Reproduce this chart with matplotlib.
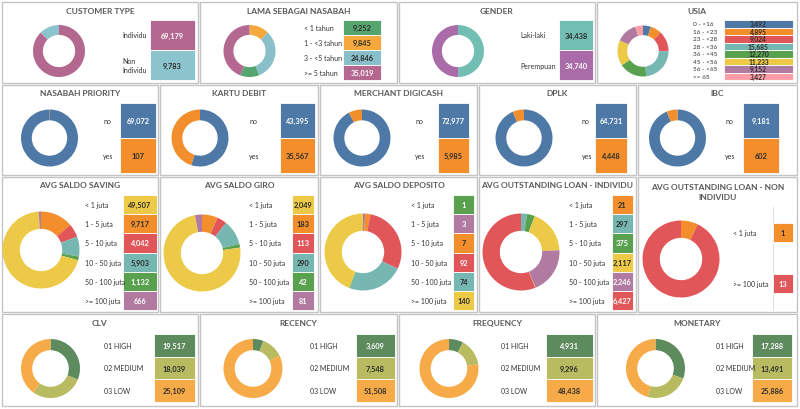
import matplotlib
matplotlib.use('Agg')
import matplotlib.pyplot as plt
from matplotlib.patches import Rectangle

# ---------------- data ----------------
customer_labels = ['Individu', 'Non\nIndividu']
customer_values = [69179, 9783]

lama_labels = ['< 1 tahun', '1 - <3 tahun', '3 - <5 tahun', '>= 5 tahun']
lama_values = [9252, 9845, 24846, 35019]

gender_labels = ['Laki-laki', 'Perempuan']
gender_values = [34438, 34740]

usia_labels = ['0 - <16', '16 - <23', '23 - <28', '28 - <36', '36 - <45', '45 - <56', '56 - <65', '>= 65']
usia_values = [3492, 4895, 9024, 15685, 12270, 11233, 9152, 3427]

yn_labels = ['no', 'yes']
priority_values = [69072, 107]
debit_values = [43395, 35567]
merchant_values = [72977, 5985]
dplk_values = [64731, 4448]
ibc_values = [9181, 602]

juta_labels = ['< 1 juta', '1 - 5 juta', '5 - 10 juta', '10 - 50 juta', '50 - 100 juta', '>= 100 juta']
saving_values = [49507, 9717, 4042, 5903, 1132, 666]
giro_values = [2049, 183, 113, 290, 42, 81]
deposito_values = [1, 3, 7, 92, 74, 140]
loan_ind_values = [21, 297, 375, 2117, 2246, 6427]
loan_non_labels = ['< 1 juta', '>= 100 juta']
loan_non_values = [1, 13]

rfm_labels = ['01 HIGH', '02 MEDIUM', '03 LOW']
clv_values = [19517, 18039, 25109]
recency_values = [3609, 7548, 51508]
frequency_values = [4931, 9296, 48438]
monetary_values = [17288, 13491, 25886]

# donut slice orders (index into the table rows)
lama_order = [1, 2, 0, 3]
juta_order = [1, 2, 3, 4, 0, 5]

# ---------------- styles ----------------
BLUE = '#4E79A7'; ORANGE = '#F28E2B'; RED = '#E15759'; TEAL = '#76B7B2'
GREEN = '#59A14F'; YELLOW = '#EDC948'; PURPLE = '#B07AA1'; PINK = '#FF9DA7'
MAUVE = '#B4678F'; CYAN = '#8BC4CC'
L_GREEN = '#55A66E'; L_ORANGE = '#F5A93C'; L_TEAL = '#88BFC8'
G_TEAL = '#73BEB2'; G_PURPLE = '#A96CA9'
R_HIGH = '#5E8B5E'; R_MED = '#B8BB5F'; R_LOW = '#F6AB48'
WHITE_TEXT = {BLUE, RED, GREEN, PURPLE, MAUVE, G_PURPLE, R_HIGH}
DARK = '#2b2b2b'

plt.rcParams['font.family'] = ['Lato', 'DejaVu Sans']

W, H = 800, 410
fig = plt.figure(figsize=(W / 100, H / 100), dpi=100)
fig.patch.set_facecolor('white')
bg = fig.add_axes([0, 0, 1, 1])
bg.set_xlim(0, W)
bg.set_ylim(H, 0)
bg.axis('off')


def panel(x0, y0, x1, y1, title, ty):
    bg.add_patch(Rectangle((x0, y0), x1 - x0, y1 - y0, facecolor='white',
                           edgecolor='#C4C4C4', lw=1.0, zorder=1))
    bg.text((x0 + x1) / 2, ty, title, ha='center', va='center', fontsize=6,
            color='#595959', fontweight='bold', zorder=5, linespacing=1.6)


def donut(cx, cy, r, values, colors, order, width):
    ax = fig.add_axes([(cx - r) / W, 1 - (cy + r) / H, 2 * r / W, 2 * r / H])
    ax.pie([values[i] for i in order], colors=[colors[i] for i in order],
           startangle=90, counterclock=False, radius=1,
           wedgeprops=dict(width=width, linewidth=0))
    ax.set_xlim(-1, 1)
    ax.set_ylim(-1, 1)
    ax.axis('off')


def table(labels, values, colors, lx, bx0, bx1, by0, by1, fs_l, fs_n,
          box_h=None, all_dark=False, lsp=1.3):
    n = len(values)
    h = (by1 - by0) / n
    for i, (lab, v, c) in enumerate(zip(labels, values, colors)):
        yc = by0 + (i + 0.5) * h
        bh = h if box_h is None else box_h
        bg.add_patch(Rectangle((bx0, yc - bh / 2), bx1 - bx0, bh, facecolor=c,
                               edgecolor='white', lw=0.6, zorder=3))
        tc = 'white' if (c in WHITE_TEXT and not all_dark) else DARK
        bg.text((bx0 + bx1) / 2, yc, f'{v:,}', ha='center', va='center',
                fontsize=fs_n, color=tc, fontweight='bold', zorder=4)
        bg.text(lx, yc, lab, ha='left', va='center', fontsize=fs_l,
                color='#333333', zorder=4, linespacing=lsp)


# ---------------- row 1 ----------------
panel(2, 3, 198, 84, 'CUSTOMER TYPE', 11.5)
cols = [MAUVE, CYAN]
donut(59, 52, 26, customer_values, cols, [0, 1], 0.38)
table(customer_labels, customer_values, cols, 122, 150, 195, 21, 81, 5, 5.3)

panel(200, 3, 397, 84, 'LAMA SEBAGAI NASABAH', 11.5)
cols = [L_GREEN, L_ORANGE, L_TEAL, MAUVE]
donut(249.5, 52, 26, lama_values, cols, lama_order, 0.38)
table(lama_labels, lama_values, cols, 304, 343, 381, 21, 81, 5, 5.3)

panel(399, 3, 595, 84, 'GENDER', 11.5)
cols = [G_TEAL, G_PURPLE]
donut(458, 52, 26, gender_values, cols, [0, 1], 0.38)
table(gender_labels, gender_values, cols, 520, 559, 593, 21, 81, 5, 5.3)

panel(597, 3, 797, 84, 'USIA', 11.5)
cols = [BLUE, ORANGE, RED, TEAL, GREEN, YELLOW, PURPLE, PINK]
donut(643, 52, 25.5, usia_values, cols, list(range(8)), 0.38)
table(usia_labels, usia_values, cols, 693, 724, 793, 21, 81, 4.6, 4.8, all_dark=True)

# ---------------- row 2 ----------------
yn_cols = [BLUE, ORANGE]
row2 = [
    (2, 158, 'NASABAH PRIORITY', priority_values, 49.5, 103, 120, 156),
    (160, 318, 'KARTU DEBIT', debit_values, 200, 249, 280, 315),
    (320, 477, 'MERCHANT DIGICASH', merchant_values, 362, 415, 438, 469),
    (479, 636, 'DPLK', dplk_values, 524, 582, 595, 627),
    (638, 797, 'IBC', ibc_values, 677.5, 725, 743, 779),
]
for x0, x1, t, vals, cx, lx, bx0, bx1 in row2:
    panel(x0, 86, x1, 176, t, 94)
    donut(cx, 139, 28.5, vals, yn_cols, [0, 1], 0.38)
    table(yn_labels, vals, yn_cols, lx, bx0, bx1, 104, 174, 5, 5.3)

# ---------------- row 3 ----------------
saving_cols = [YELLOW, ORANGE, RED, TEAL, GREEN, PURPLE]
dep_cols = [GREEN, PURPLE, ORANGE, RED, TEAL, YELLOW]
loan_cols = [ORANGE, TEAL, GREEN, YELLOW, PURPLE, RED]
row3 = [
    (2, 158, 'AVG SALDO SAVING', saving_values, saving_cols, 41, 251, 85, 123, 157),
    (160, 318, 'AVG SALDO GIRO', giro_values, saving_cols, 202, 254, 249, 292, 314),
    (320, 477, 'AVG SALDO DEPOSITO', deposito_values, dep_cols, 363, 253, 411, 453, 474),
    (479, 636, 'AVG OUTSTANDING LOAN - INDIVIDU', loan_ind_values, loan_cols, 521, 253, 569, 612, 633),
]
for x0, x1, t, vals, cols, cx, cy, lx, bx0, bx1 in row3:
    panel(x0, 178, x1, 313, t, 186)
    donut(cx, cy, 38.5, vals, cols, juta_order, 0.45)
    table(juta_labels, vals, cols, lx, bx0, bx1, 196, 311, 5, 5.3)

panel(638, 178, 797, 313, 'AVG OUTSTANDING LOAN - NON\nINDIVIDU', 192.5)
bg.plot([773, 773], [208, 311], color='#E2E2E2', lw=0.8, zorder=2)
cols = [ORANGE, RED]
donut(681, 260, 38.5, loan_non_values, cols, [0, 1], 0.45)
table(loan_non_labels, loan_non_values, cols, 733, 773, 793, 208, 310, 5, 5.3, box_h=19)

# ---------------- row 4 ----------------
rfm_cols = [R_HIGH, R_MED, R_LOW]
row4 = [
    (2, 198, 'CLV', clv_values, 50.5, 104, 154, 195),
    (200, 397, 'RECENCY', recency_values, 253, 310, 356, 395),
    (399, 595, 'FREQUENCY', frequency_values, 449, 501, 546, 593),
    (597, 797, 'MONETARY', monetary_values, 655.5, 716, 752, 792),
]
for x0, x1, t, vals, cx, lx, bx0, bx1 in row4:
    panel(x0, 315, x1, 407, t, 324)
    donut(cx, 369.5, 29.5, vals, rfm_cols, [0, 1, 2], 0.38)
    table(rfm_labels, vals, rfm_cols, lx, bx0, bx1, 335, 403, 5, 5.3)

fig.savefig('out.png', dpi=100, facecolor='white')
